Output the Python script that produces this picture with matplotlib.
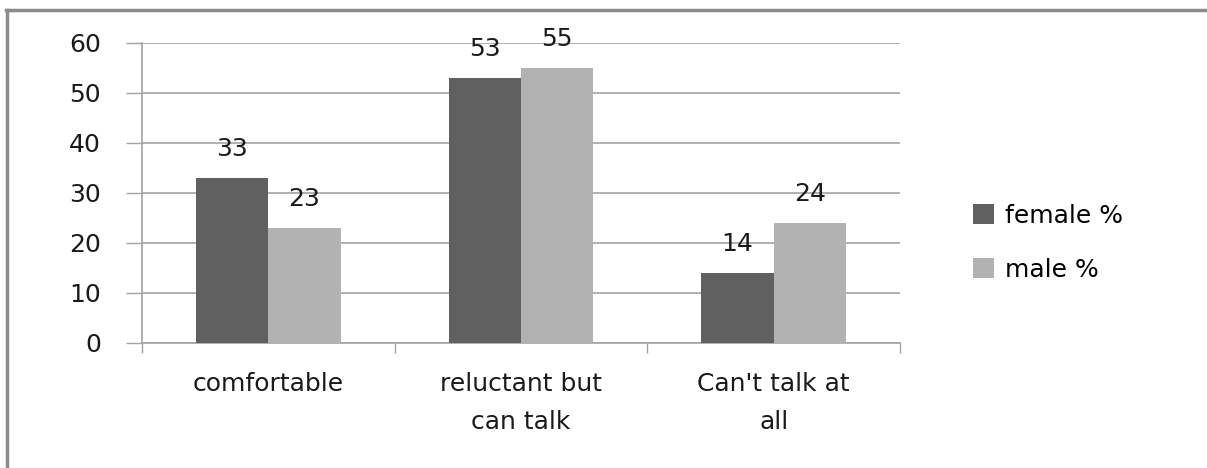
import matplotlib
matplotlib.use("Agg")
import matplotlib.pyplot as plt
from matplotlib.patches import Patch
from matplotlib.lines import Line2D
import numpy as np

categories = ["comfortable", "reluctant but\ncan talk", "Can't talk at\nall"]
female = [33, 53, 14]
male = [23, 55, 24]
series_names = ["female %", "male %"]
yticks = [0, 10, 20, 30, 40, 50, 60]

c_female = "#606060"
c_male = "#b2b2b2"
gcol = "#a3a3a3"
tcol = "#1a1a1a"
fs = 18

fig = plt.figure(figsize=(12.07, 4.68), dpi=100)
ax = fig.add_axes([142/1207, 1-343/468, (900-142)/1207, (343-43)/468])

x = np.arange(len(categories))
w = 0.286
b1 = ax.bar(x - w/2, female, w, color=c_female, zorder=3)
b2 = ax.bar(x + w/2, male, w, color=c_male, zorder=3)

for bars in (b1, b2):
    for r in bars:
        ax.annotate(f"{r.get_height():g}", (r.get_x()+r.get_width()/2, r.get_height()),
                    xytext=(0, 12), textcoords="offset points", ha="center", va="bottom",
                    fontsize=fs, family="DejaVu Sans", color=tcol, zorder=4)

ax.set_xlim(-0.5, len(categories)-0.5)
ax.set_ylim(0, 60)
ax.set_yticks(yticks)
ax.set_yticklabels([str(v) for v in yticks], fontsize=fs, family="DejaVu Sans", color=tcol)
ax.yaxis.grid(True, color=gcol, linewidth=1.2, zorder=0)
ax.set_axisbelow(True)
ax.tick_params(axis="y", length=11.5, width=1, color=gcol, pad=18)

ax.set_xticks(np.arange(len(categories)+1) - 0.5, minor=True)
ax.set_xticks(x)
ax.set_xticklabels(categories, fontsize=fs, family="DejaVu Sans", color=tcol, linespacing=1.75)
ax.tick_params(axis="x", which="major", length=0, pad=21)
ax.tick_params(axis="x", which="minor", length=7.5, width=1, color=gcol)

for s in ("top", "right"):
    ax.spines[s].set_visible(False)
for s in ("left", "bottom"):
    ax.spines[s].set_color(gcol)
    ax.spines[s].set_linewidth(1.2)

handles = [Patch(facecolor=c_female, edgecolor="none"), Patch(facecolor=c_male, edgecolor="none")]
fig.legend(handles, series_names, loc="center left", bbox_to_anchor=(950/1207, 1-243/468),
           frameon=False, handlelength=0.85, handleheight=0.85,
           handletextpad=0.45, labelspacing=1.2, prop={"family": "DejaVu Sans", "size": fs})

# outer frame (top and left)
fig.add_artist(Line2D([6/1207, 1], [1-10/468, 1-10/468], color="#8c8c8c", linewidth=2.5, transform=fig.transFigure))
fig.add_artist(Line2D([7/1207, 7/1207], [0, 1-10/468], color="#8c8c8c", linewidth=2.5, transform=fig.transFigure))

fig.savefig("out.png", dpi=100)
